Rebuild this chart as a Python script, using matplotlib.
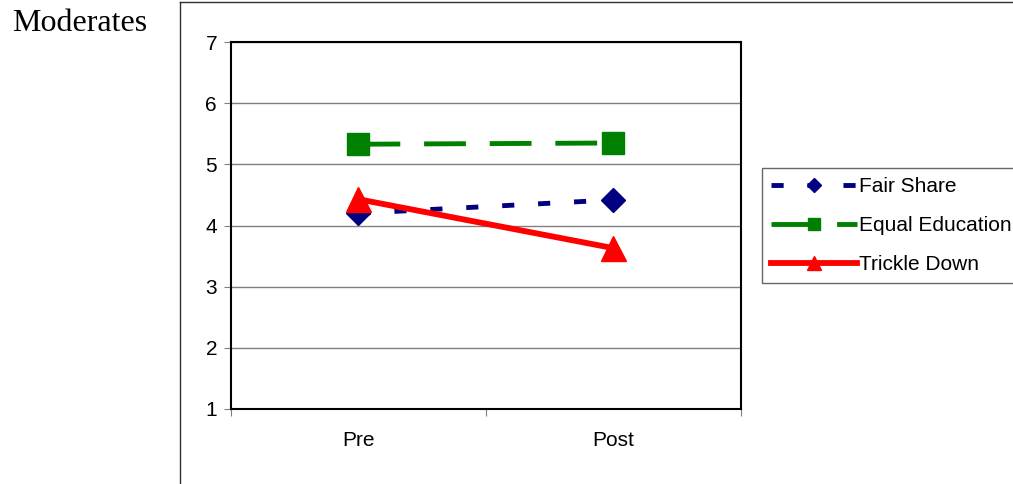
import matplotlib.pyplot as plt
from matplotlib.lines import Line2D

plt.rcParams['font.family'] = ['Liberation Sans', 'DejaVu Sans']

# survey means, before and after
periods = ['Pre', 'Post']
fair_share = [4.20, 4.42]
equal_education = [5.33, 5.35]
trickle_down = [4.43, 3.63]
y_ticks = [1, 2, 3, 4, 5, 6, 7]

fig = plt.figure(figsize=(10.13, 4.84), dpi=100)
ax = fig.add_axes([0.228, 0.155, 0.5035, 0.758])

x = [0.5, 1.5]
ax.plot(x, fair_share, color='#000080', linewidth=3.5, dashes=(2.5, 4.9),
        marker='D', markersize=12.5, label='Fair Share')
ax.plot(x, equal_education, color='#008000', linewidth=3.5, dashes=(8.6, 4.9),
        marker='s', markersize=16, label='Equal Education')
ax.plot(x, trickle_down, color='#ff0000', linewidth=4.2,
        marker='^', markersize=18, label='Trickle Down')

ax.set_xlim(0, 2)
ax.set_ylim(1, 7)
ax.set_yticks(y_ticks)
ax.set_yticklabels([str(v) for v in y_ticks])
ax.yaxis.grid(True, color='#808080', linewidth=1)
ax.set_axisbelow(True)

# category ticks at the bin edges, labels centred in the bins
ax.set_xticks([0, 1, 2])
ax.set_xticklabels([])
ax.set_xticks(x, minor=True)
ax.set_xticklabels(periods, minor=True)
ax.tick_params(axis='x', which='minor', length=0, pad=16, labelsize=15)
ax.tick_params(axis='x', which='major', length=5, color='#808080')
ax.tick_params(axis='y', length=5, color='#808080', pad=5, labelsize=15)

for s in ax.spines.values():
    s.set_linewidth(1.5)
    s.set_color('black')

leg = ax.legend(loc='upper left', bbox_to_anchor=(0.752, 0.653),
                bbox_transform=fig.transFigure, borderaxespad=0,
                fontsize=15, markerscale=0.55, handlelength=4.1,
                handletextpad=0.1, labelspacing=0.95, fancybox=False,
                borderpad=0.45, frameon=True)
leg.get_frame().set_edgecolor('#404040')
leg.get_frame().set_linewidth(1)

# outer chart border
fig.add_artist(Line2D([0.1777, 0.1777], [0, 0.996], color='#303030',
                      linewidth=1, transform=fig.transFigure))
fig.add_artist(Line2D([0.1777, 1], [0.996, 0.996], color='#303030',
                      linewidth=1, transform=fig.transFigure))

fig.text(0.012, 0.935, 'Moderates', family='Liberation Serif', fontsize=23)

fig.savefig('out.png', dpi=100)
